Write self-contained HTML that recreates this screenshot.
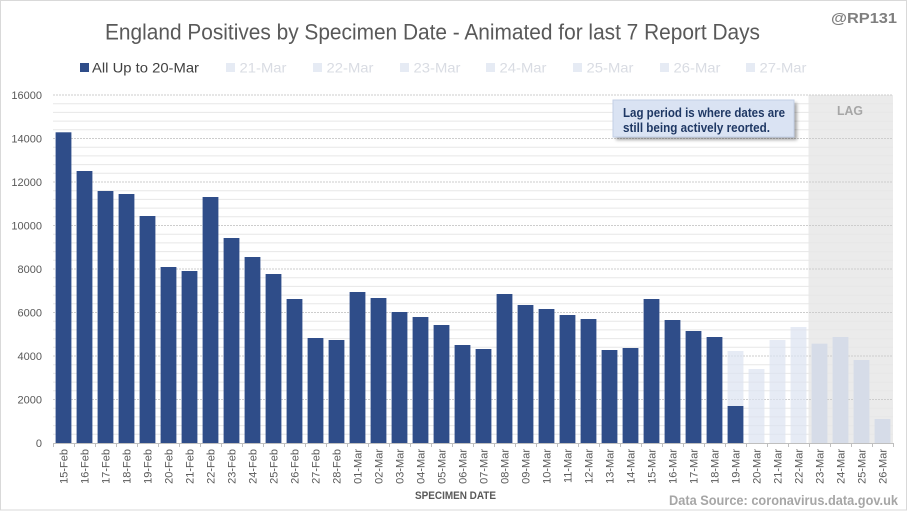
<!DOCTYPE html>
<html><head><meta charset="utf-8"><style>
html,body{margin:0;padding:0;background:#fff;}
svg{display:block;font-family:"Liberation Sans",sans-serif;}
</style></head><body>
<svg id="c" width="908" height="511" viewBox="0 0 908 511" xmlns="http://www.w3.org/2000/svg">
<defs>
<filter id="sh" x="-10%" y="-20%" width="130%" height="160%"><feGaussianBlur stdDeviation="1.5"/></filter>
</defs>
<rect x="0" y="0" width="908" height="511" fill="#fff"/>
<rect x="0.5" y="0.5" width="906" height="509.5" fill="none" stroke="#d9d9d9"/>
<text x="105" y="39.5" font-size="22" fill="#595959" textLength="655" lengthAdjust="spacingAndGlyphs">England Positives by Specimen Date - Animated for last 7 Report Days</text>
<text x="897" y="23" font-size="15" font-weight="bold" fill="#7f7f7f" text-anchor="end" textLength="66" lengthAdjust="spacingAndGlyphs">@RP131</text>
<!-- legend -->
<rect x="80" y="63" width="9" height="9" fill="#2f4d89"/>
<text x="92" y="72.5" font-size="14" fill="#404040" textLength="107" lengthAdjust="spacingAndGlyphs">All Up to 20-Mar</text>
<g fill="#e6ebf4"><rect x="226" y="63" width="9" height="9"/><rect x="313" y="63" width="9" height="9"/><rect x="400" y="63" width="9" height="9"/><rect x="486" y="63" width="9" height="9"/><rect x="573" y="63" width="9" height="9"/><rect x="660" y="63" width="9" height="9"/><rect x="746" y="63" width="9" height="9"/></g>
<g font-size="14" fill="#d9dce3">
<text x="239.5" y="72.5" textLength="47" lengthAdjust="spacingAndGlyphs">21-Mar</text>
<text x="326.5" y="72.5" textLength="47" lengthAdjust="spacingAndGlyphs">22-Mar</text>
<text x="413.5" y="72.5" textLength="47" lengthAdjust="spacingAndGlyphs">23-Mar</text>
<text x="499.5" y="72.5" textLength="47" lengthAdjust="spacingAndGlyphs">24-Mar</text>
<text x="586.5" y="72.5" textLength="47" lengthAdjust="spacingAndGlyphs">25-Mar</text>
<text x="673.5" y="72.5" textLength="47" lengthAdjust="spacingAndGlyphs">26-Mar</text>
<text x="759.5" y="72.5" textLength="47" lengthAdjust="spacingAndGlyphs">27-Mar</text>
</g>
<!-- lag background -->
<rect x="808.5" y="95" width="84.5" height="348" fill="#ebebeb"/>
<g id="grid"></g>
<text x="850" y="115" font-size="13" font-weight="bold" fill="#a6a6a6" text-anchor="middle" textLength="26" lengthAdjust="spacingAndGlyphs">LAG</text>
<g id="bars"></g>
<line x1="53" y1="443.5" x2="893" y2="443.5" stroke="#bfbfbf" stroke-width="1"/>
<g id="ticks"></g>
<g id="ylab" font-size="11" fill="#595959" text-anchor="end"></g>
<g id="xlab" font-size="11" fill="#595959" text-anchor="end"></g>
<text x="455.5" y="499" font-size="11" font-weight="bold" fill="#595959" text-anchor="middle" textLength="81" lengthAdjust="spacingAndGlyphs">SPECIMEN DATE</text>
<text x="898" y="505" font-size="13.5" font-weight="bold" fill="#a6a6a6" text-anchor="end" textLength="229" lengthAdjust="spacingAndGlyphs">Data Source: coronavirus.data.gov.uk</text>
<!-- callout -->
<rect x="616" y="103" width="181" height="37" fill="#000" opacity="0.35" filter="url(#sh)"/>
<rect x="613" y="100" width="181" height="37" fill="#dae3f3" stroke="#c3cfe6" stroke-width="1"/>
<text x="623" y="117" font-size="12.5" font-weight="bold" fill="#1f3864" textLength="162" lengthAdjust="spacingAndGlyphs">Lag period is where dates are</text>
<text x="623" y="132" font-size="12.5" font-weight="bold" fill="#1f3864" textLength="147" lengthAdjust="spacingAndGlyphs">still being actively  reorted.</text>
</svg>
<script>
(function(){
var NS="http://www.w3.org/2000/svg";
function el(n,a,p,t){var e=document.createElementNS(NS,n);for(var k in a)e.setAttribute(k,a[k]);if(t!=null)e.textContent=t;p.appendChild(e);return e;}
var grid=document.getElementById('grid'),bars=document.getElementById('bars'),ticks=document.getElementById('ticks'),ylab=document.getElementById('ylab'),xlab=document.getElementById('xlab');
var y0=443,s=8.7;
for(var k=1;k<=40;k++){var y=y0-k*s;var major=(k%5==0);
 el('line',{x1:53,x2:893,y1:y,y2:y,stroke:major?'#cdcdcd':'#e7e7e7','stroke-width':1,'stroke-dasharray':major?'2,1':''},grid);}
for(var k=0;k<=8;k++){el('text',{x:42,y:y0-k*5*s+4},ylab,String(k*2000));}
var tops=[132.3,171,191,194,216,267,271,197,238,257,274,299,338,340,292,298,312,317,325,345,349,294,305,309,315,319,350,348,299,320,331,337,406,369,340,327,343.7,337,360,419];
var light={32:351};
var labels=[];
for(var d=15;d<=28;d++)labels.push(d+'-Feb');
for(var d=1;d<=26;d++)labels.push((d<10?'0':'')+d+'-Mar');
for(var i=0;i<40;i++){
 var x0=53+21*i,bx=x0+2.6,w=15.8;
 if(i>=36){el('rect',{x:bx,y:tops[i],width:w,height:y0-tops[i],fill:'#d6dce8'},bars);}
 else if(i>=33){el('rect',{x:bx,y:tops[i],width:w,height:y0-tops[i],fill:'#dce3f1',opacity:0.7},bars);}
 else{
  if(light[i]){el('rect',{x:bx,y:light[i],width:w,height:y0-light[i],fill:'#dce3f1',opacity:0.7},bars);}
  el('rect',{x:bx,y:tops[i],width:w,height:y0-tops[i],fill:'#2f4d89'},bars);
 }
 el('line',{x1:x0+0.5,x2:x0+0.5,y1:443,y2:447,stroke:'#bfbfbf'},ticks);
 var cx=x0+10.5+4;
 el('text',{transform:'translate('+cx+',449) rotate(-90)',x:0,y:0},xlab,labels[i]);
}
el('line',{x1:893.5,x2:893.5,y1:443,y2:447,stroke:'#bfbfbf'},ticks);
})();
</script>
</body></html>
